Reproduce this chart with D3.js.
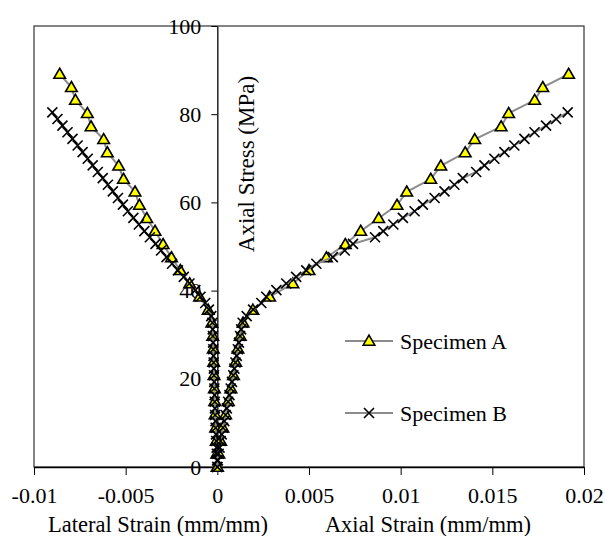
<!DOCTYPE html>
<html>
<head>
<meta charset="utf-8">
<script src="https://cdn.jsdelivr.net/npm/d3@7"></script>
<style>
  html, body { margin: 0; padding: 0; background: #fff; }
  svg text { font-family: "Liberation Serif", "Times New Roman", serif; fill: #000; }
</style>
</head>
<body>
<svg id="chart" width="605" height="536"></svg>
<script>
// ---- Data ----
const stressA = [89.1, 86.1, 83.2, 80.2, 77.2, 74.3, 71.3, 68.3, 65.3, 62.4, 59.4, 56.4, 53.5, 50.5, 47.5,
                 44.6, 41.6, 38.6, 35.6, 32.7, 29.7, 26.8, 23.8, 20.8, 17.8, 14.9, 11.9, 8.9, 5.9, 3.0, 0];
const lateralA = [-0.00860, -0.00796, -0.00774, -0.00709, -0.00689, -0.00620, -0.00600, -0.00538, -0.00512,
                  -0.00449, -0.00425, -0.00385, -0.00340, -0.00296, -0.00250, -0.00202, -0.00151, -0.00097,
                  -0.00050, -0.00030, -0.00025, -0.00022, -0.00020, -0.00018, -0.00016, -0.00014, -0.00012,
                  -0.00009, -0.00006, -0.00003, 0];
const axialA = [0.01916, 0.01775, 0.01731, 0.01589, 0.01548, 0.01404, 0.01352, 0.01219, 0.01164, 0.01033,
                0.00980, 0.00880, 0.00782, 0.00698, 0.00595, 0.00500, 0.00412, 0.00285, 0.00194, 0.00140,
                0.00125, 0.00112, 0.00100, 0.00088, 0.00074, 0.00060, 0.00045, 0.00030, 0.00018, 0.00008, 0];

const stressB = [80.4, 78.9, 77.4, 75.9, 74.4, 72.9, 71.4, 69.9, 68.4, 66.9, 65.5, 64.0, 62.5, 61.0, 59.5,
                 58.0, 56.5, 55.0, 53.5, 52.1, 50.6, 49.1, 47.6, 46.1, 44.6, 43.1, 41.6, 40.1, 38.6, 37.2,
                 35.7, 34.2, 32.7, 31.2, 29.7, 28.2, 26.7, 25.2, 23.7, 22.3, 20.8, 19.3, 17.8, 16.3, 14.8,
                 13.3, 11.8, 10.4, 8.9, 7.4, 5.9, 4.4, 3.0, 1.5, 0];
const lateralB = [-0.00900, -0.00872, -0.00845, -0.00817, -0.00790, -0.00762, -0.00735, -0.00707, -0.00680,
                  -0.00652, -0.00625, -0.00597, -0.00570, -0.00542, -0.00515, -0.00488, -0.00458, -0.00428,
                  -0.00398, -0.00368, -0.00337, -0.00307, -0.00277, -0.00247, -0.00215, -0.00183, -0.00152,
                  -0.00120, -0.00092, -0.00066, -0.00046, -0.00033, -0.00027, -0.00025, -0.00024, -0.00023,
                  -0.00022, -0.00021, -0.00020, -0.00019, -0.00018, -0.00017, -0.00016, -0.00015, -0.00014,
                  -0.00013, -0.00012, -0.00010, -0.00009, -0.00007, -0.00006, -0.00004, -0.00003, -0.00001, 0];
const axialB = [0.01911, 0.01848, 0.01793, 0.01730, 0.01675, 0.01620, 0.01566, 0.01511, 0.01457, 0.01412,
                0.01339, 0.01293, 0.01239, 0.01185, 0.01121, 0.01076, 0.01012, 0.00960, 0.00905, 0.00860,
                0.00740, 0.00695, 0.00630, 0.00540, 0.00485, 0.00430, 0.00376, 0.00322, 0.00267, 0.00240,
                0.00195, 0.00160, 0.00138, 0.00130, 0.00124, 0.00118, 0.00112, 0.00106, 0.00099, 0.00093,
                0.00087, 0.00080, 0.00073, 0.00066, 0.00059, 0.00052, 0.00045, 0.00038, 0.00031, 0.00024,
                0.00018, 0.00012, 0.00007, 0.00003, 0];

const xTicks = [-0.01, -0.005, 0, 0.005, 0.01, 0.015, 0.02];
const xTickLabels = ["-0.01", "-0.005", "0", "0.005", "0.01", "0.015", "0.02"];
const yTicks = [0, 20, 40, 60, 80, 100];
const seriesNames = ["Specimen A", "Specimen B"];
const xTitleLeft = "Lateral Strain (mm/mm)";
const xTitleRight = "Axial Strain (mm/mm)";
const yTitle = "Axial Stress (MPa)";

// ---- Layout ----
const svg = d3.select("#chart");
const plotL = 34, plotR = 584, plotT = 26, plotB = 467;
const x = d3.scaleLinear().domain([-0.01, 0.02]).range([plotL, plotR]);
const y = d3.scaleLinear().domain([0, 100]).range([plotB, plotT]);

// frame
svg.append("rect")
  .attr("x", plotL).attr("y", plotT)
  .attr("width", plotR - plotL).attr("height", plotB - plotT)
  .attr("fill", "none").attr("stroke", "#333").attr("stroke-width", 1.2);

// x axis at bottom
const xAxis = d3.axisBottom(x).tickValues(xTicks)
  .tickFormat((d, i) => xTickLabels[i]).tickSize(8).tickSizeOuter(0).tickPadding(12);
const gx = svg.append("g").attr("transform", `translate(0,${plotB})`).call(xAxis);
gx.select(".domain").attr("stroke", "#000").attr("stroke-width", 1.3);
gx.selectAll(".tick line").attr("stroke", "#000").attr("stroke-width", 1);
gx.selectAll(".tick text").attr("font-size", 22).attr("font-family", "Liberation Serif, Times New Roman, serif");

// y axis at x = 0
const yAxis = d3.axisLeft(y).tickValues(yTicks).tickSize(6).tickSizeOuter(0).tickPadding(10);
const gy = svg.append("g").attr("transform", `translate(${x(0)},0)`).call(yAxis);
gy.select(".domain").attr("stroke", "#000").attr("stroke-width", 1.3);
gy.selectAll(".tick line").attr("stroke", "#000").attr("stroke-width", 1);
gy.selectAll(".tick text").attr("font-size", 22).attr("font-family", "Liberation Serif, Times New Roman, serif");

// axis titles
svg.append("text").attr("x", 158).attr("y", 532).attr("text-anchor", "middle")
  .attr("font-size", 22.5).text(xTitleLeft);
svg.append("text").attr("x", 428).attr("y", 532).attr("text-anchor", "middle")
  .attr("font-size", 22.5).text(xTitleRight);
svg.append("text").attr("transform", `translate(${x(0) + 37},${y(68.7)}) rotate(-90)`)
  .attr("text-anchor", "middle").attr("font-size", 23).text(yTitle);

// ---- Series ----
const line = d3.line().x(d => x(d[0])).y(d => y(d[1]));
const lineColor = "#8c8c8c";
const triPath = "M0,-5.8L5.8,4.2L-5.8,4.2Z";
const crossPath = "M-5,-5L5,5M-5,5L5,-5";

function drawSeries(stress, lat, ax, kind) {
  const latPts = stress.map((s, i) => [lat[i], s]);
  const axPts = stress.map((s, i) => [ax[i], s]);
  [latPts, axPts].forEach(pts => {
    svg.append("path").datum(pts).attr("d", line)
      .attr("fill", "none").attr("stroke", lineColor).attr("stroke-width", 2);
  });
  const all = latPts.concat(axPts);
  const g = svg.append("g");
  if (kind === "tri") {
    g.selectAll("path").data(all).join("path")
      .attr("transform", d => `translate(${x(d[0])},${y(d[1])})`)
      .attr("d", triPath).attr("fill", "#ffff00").attr("stroke", "#000").attr("stroke-width", 1.6);
  } else {
    g.selectAll("path").data(all).join("path")
      .attr("transform", d => `translate(${x(d[0])},${y(d[1])})`)
      .attr("d", crossPath).attr("fill", "none").attr("stroke", "#000").attr("stroke-width", 1.6);
  }
}
drawSeries(stressA, lateralA, axialA, "tri");
drawSeries(stressB, lateralB, axialB, "cross");

// ---- Legend ----
const legendRows = [{ name: seriesNames[0], kind: "tri", yv: 341 }, { name: seriesNames[1], kind: "cross", yv: 413 }];
legendRows.forEach(r => {
  svg.append("line").attr("x1", 345).attr("x2", 393).attr("y1", r.yv).attr("y2", r.yv)
    .attr("stroke", lineColor).attr("stroke-width", 2);
  const m = svg.append("path").attr("transform", `translate(369,${r.yv})`);
  if (r.kind === "tri") m.attr("d", triPath).attr("fill", "#ffff00").attr("stroke", "#000").attr("stroke-width", 1.6);
  else m.attr("d", crossPath).attr("fill", "none").attr("stroke", "#000").attr("stroke-width", 1.6);
  svg.append("text").attr("x", 400).attr("y", r.yv).attr("dy", "0.35em")
    .attr("font-size", 22).text(r.name);
});
</script>
</body>
</html>
